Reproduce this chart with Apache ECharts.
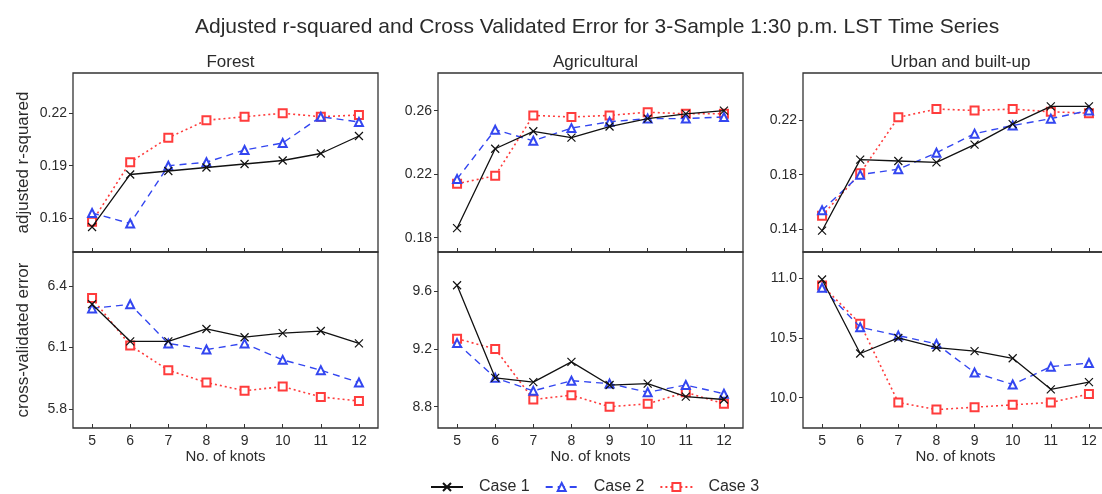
<!DOCTYPE html>
<html>
<head>
<meta charset="utf-8">
<script src="https://cdn.jsdelivr.net/npm/echarts@6/dist/echarts.min.js"></script>
<style>
  html, body { margin: 0; padding: 0; background: #fff; }
  #main { width: 1102px; height: 494px; }
</style>
</head>
<body>
<div id="main"></div>
<script>
// knots on the x axis
var knots = ['5', '6', '7', '8', '9', '10', '11', '12'];

// adjusted r-squared (top row)
var forestR2Case1 = [0.155, 0.185, 0.187, 0.189, 0.191, 0.193, 0.197, 0.207];
var forestR2Case2 = [0.163, 0.157, 0.190, 0.192, 0.199, 0.203, 0.218, 0.215];
var forestR2Case3 = [0.158, 0.192, 0.206, 0.216, 0.218, 0.220, 0.218, 0.219];

var agriR2Case1 = [0.186, 0.236, 0.247, 0.243, 0.250, 0.255, 0.258, 0.260];
var agriR2Case2 = [0.217, 0.248, 0.241, 0.249, 0.253, 0.255, 0.255, 0.256];
var agriR2Case3 = [0.214, 0.219, 0.257, 0.256, 0.257, 0.259, 0.258, 0.258];

var urbanR2Case1 = [0.139, 0.191, 0.190, 0.189, 0.202, 0.217, 0.230, 0.230];
var urbanR2Case2 = [0.154, 0.180, 0.184, 0.196, 0.210, 0.216, 0.221, 0.227];
var urbanR2Case3 = [0.150, 0.181, 0.222, 0.228, 0.227, 0.228, 0.226, 0.225];

// cross-validated error (bottom row)
var forestCvCase1 = [6.31, 6.13, 6.13, 6.19, 6.15, 6.17, 6.18, 6.12];
var forestCvCase2 = [6.29, 6.31, 6.12, 6.09, 6.12, 6.04, 5.99, 5.93];
var forestCvCase3 = [6.34, 6.11, 5.99, 5.93, 5.89, 5.91, 5.86, 5.84];

var agriCvCase1 = [9.64, 9.00, 8.97, 9.11, 8.95, 8.96, 8.87, 8.85];
var agriCvCase2 = [9.24, 9.00, 8.91, 8.98, 8.96, 8.90, 8.95, 8.89];
var agriCvCase3 = [9.27, 9.20, 8.85, 8.88, 8.80, 8.82, 8.90, 8.82];

var urbanCvCase1 = [10.99, 10.37, 10.50, 10.42, 10.39, 10.33, 10.07, 10.13];
var urbanCvCase2 = [10.92, 10.59, 10.52, 10.45, 10.21, 10.11, 10.26, 10.29];
var urbanCvCase3 = [10.94, 10.62, 9.96, 9.90, 9.92, 9.94, 9.96, 10.03];

// tick labels
var forestR2Ticks = [0.16, 0.19, 0.22];
var agriR2Ticks = [0.18, 0.22, 0.26];
var urbanR2Ticks = [0.14, 0.18, 0.22];
var forestCvTicks = [5.8, 6.1, 6.4];
var agriCvTicks = [8.8, 9.2, 9.6];
var urbanCvTicks = [10.0, 10.5, 11.0];

var panelNames = ['Forest', 'Agricultural', 'Urban and built-up'];
var caseNames = ['Case 1', 'Case 2', 'Case 3'];

var textColor = '#2b2b2b';
var frameColor = '#333';
var font = 'Liberation Sans, Arial, sans-serif';

// layout of the six panels
var colLeft = [73, 438, 803];
var colWidth = 305;
var rowTop = [73, 252];
var rowHeight = [179, 176];
// visible ranges of the y axes, row by row
var yRange = [
  [[0.1407, 0.243], [0.171, 0.2837], [0.1234, 0.2544]],
  [[5.709, 6.564], [8.653, 9.87], [9.746, 11.22]]
];

var rows = [
  [
    [forestR2Case1, forestR2Case2, forestR2Case3],
    [agriR2Case1, agriR2Case2, agriR2Case3],
    [urbanR2Case1, urbanR2Case2, urbanR2Case3]
  ],
  [
    [forestCvCase1, forestCvCase2, forestCvCase3],
    [agriCvCase1, agriCvCase2, agriCvCase3],
    [urbanCvCase1, urbanCvCase2, urbanCvCase3]
  ]
];
var ticks = [
  [forestR2Ticks, agriR2Ticks, urbanR2Ticks],
  [forestCvTicks, agriCvTicks, urbanCvTicks]
];
var yNames = ['adjusted r-squared', 'cross-validated error'];

var caseStyle = [
  { color: '#111', symbol: 'path://M0,0L10,10M10,0L0,10', type: 'solid', width: 1.3 },
  { color: '#3346f0', symbol: 'emptyTriangle', type: [7, 5], width: 1.4 },
  { color: '#ff3c3c', symbol: 'emptyRect', type: [2, 3], width: 1.6 }
];

var grids = [], xAxes = [], yAxes = [], series = [];
var titles = [{
  text: 'Adjusted r-squared and Cross Validated Error for 3-Sample 1:30 p.m. LST Time Series',
  left: 190, top: 12,
  textStyle: { fontSize: 21, fontWeight: 'normal', color: textColor, fontFamily: font }
}];

panelNames.forEach(function (name, c) {
  titles.push({
    text: name,
    left: colLeft[c] + colWidth / 2, top: 49, textAlign: 'center',
    textStyle: { fontSize: 17, fontWeight: 'normal', color: textColor, fontFamily: font }
  });
});

for (var r = 0; r < 2; r++) {
  for (var c = 0; c < 3; c++) {
    var idx = grids.length;
    grids.push({
      left: colLeft[c], top: rowTop[r], width: colWidth, height: rowHeight[r],
      show: true, borderColor: frameColor, borderWidth: 1.3,
      outerBoundsMode: 'none'
    });
    xAxes.push({
      type: 'category', gridIndex: idx, data: knots, boundaryGap: true,
      axisLine: { show: false },
      axisTick: { show: true, inside: true, alignWithLabel: true, length: 4, lineStyle: { color: frameColor } },
      axisLabel: { show: r === 1, color: textColor, fontSize: 14, fontFamily: font, margin: 6 },
      name: r === 1 ? 'No. of knots' : '',
      nameLocation: 'middle', nameGap: 19,
      nameTextStyle: { color: textColor, fontSize: 15, fontFamily: font }
    });
    var tk = ticks[r][c];
    yAxes.push({
      type: 'value', gridIndex: idx,
      min: yRange[r][c][0], max: yRange[r][c][1],
      splitLine: { show: false },
      axisLine: { show: false },
      axisTick: { show: true, length: 4, customValues: tk, lineStyle: { color: frameColor } },
      axisLabel: {
        customValues: tk, color: textColor, fontSize: 14, fontFamily: font, margin: 6,
        formatter: (function (dec) { return function (v) { return v.toFixed(dec); }; })(r === 0 ? 2 : 1)
      },
      name: c === 0 ? yNames[r] : '',
      nameLocation: 'middle', nameGap: 41,
      nameTextStyle: { color: textColor, fontSize: 17, fontFamily: font }
    });
    rows[r][c].forEach(function (vals, k) {
      var st = caseStyle[k];
      series.push({
        name: caseNames[k], type: 'line',
        xAxisIndex: idx, yAxisIndex: idx,
        data: vals,
        symbol: st.symbol, symbolSize: 8,
        showAllSymbol: true,
        lineStyle: { color: st.color, width: st.width, type: st.type },
        itemStyle: { color: st.color, borderColor: st.color, borderWidth: 1.2 },
        z: 3 + (2 - k),
        animation: false
      });
    });
  }
}

var myChart = echarts.init(document.getElementById('main'));
myChart.setOption({
  animation: false,
  title: titles,
  legend: {
    data: caseNames,
    top: 474, left: 425,
    itemWidth: 32, itemHeight: 10, itemGap: 15,
    textStyle: { color: textColor, fontSize: 16, fontFamily: font, padding: [0, 0, 0, 11] }
  },
  grid: grids,
  xAxis: xAxes,
  yAxis: yAxes,
  series: series
});
</script>
</body>
</html>
